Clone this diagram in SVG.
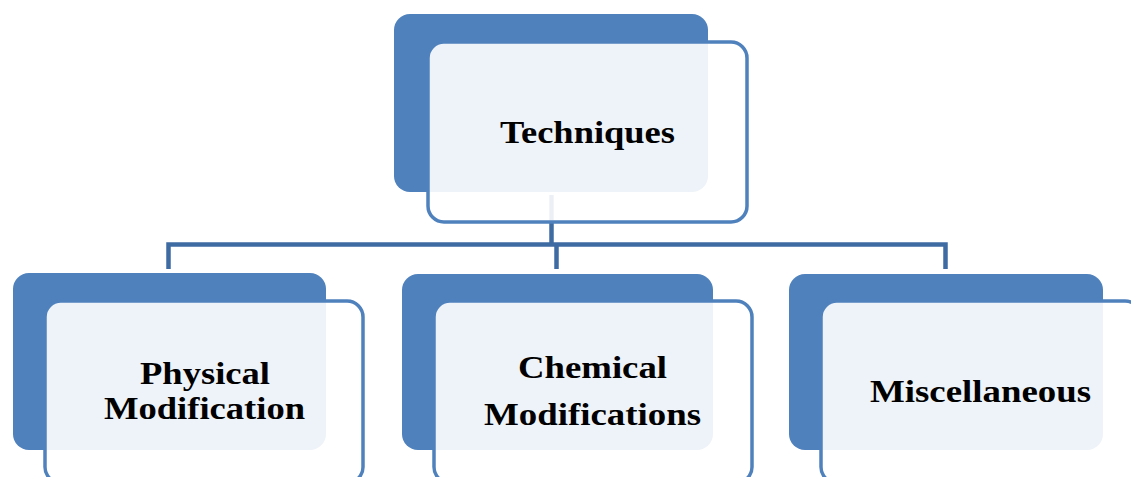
<svg xmlns="http://www.w3.org/2000/svg" width="1131" height="477" viewBox="0 0 1131 477">
  <style>
    .back { fill: #4f81bd; }
    .front { fill: #ffffff; fill-opacity: 0.9; stroke: #4f81bd; stroke-width: 3.5; }
    .link { fill: none; stroke: #3f6ba3; stroke-width: 4.5; stroke-linejoin: miter; }
    .label { font-family: "Liberation Serif", "Times New Roman", serif; font-weight: bold; font-size: 32px; fill: #000000; }
  </style>
  <rect width="1131" height="477" fill="#ffffff"/>

  <!-- tree connectors, drawn beneath the boxes -->
  <g id="connectors">
    <path class="link" d="M551.5 195 V244.5"/>
    <path class="link" d="M168.5 269 V244.5 H945.5 V269"/>
    <path class="link" d="M556.5 244.5 V269"/>
  </g>

  <g id="techniques">
    <rect class="back" x="394" y="14" width="314" height="178" rx="16"/>
    <rect class="front" x="428" y="42" width="319" height="180" rx="16"/>
    <text class="label" x="500" y="143" textLength="175" lengthAdjust="spacingAndGlyphs">Techniques</text>
  </g>

  <g id="physical">
    <rect class="back" x="13" y="273" width="313" height="177" rx="16"/>
    <rect class="front" x="45" y="301" width="318" height="182" rx="16"/>
    <text class="label" x="140" y="384" textLength="130" lengthAdjust="spacingAndGlyphs">Physical</text>
    <text class="label" x="104" y="419" textLength="201" lengthAdjust="spacingAndGlyphs">Modification</text>
  </g>

  <g id="chemical">
    <rect class="back" x="402" y="274" width="311" height="176" rx="16"/>
    <rect class="front" x="434" y="301" width="318" height="182" rx="16"/>
    <text class="label" x="518" y="378" textLength="149" lengthAdjust="spacingAndGlyphs">Chemical</text>
    <text class="label" x="484" y="425" textLength="217" lengthAdjust="spacingAndGlyphs">Modifications</text>
  </g>

  <g id="miscellaneous">
    <rect class="back" x="789" y="274" width="314" height="176" rx="16"/>
    <rect class="front" x="821" y="301" width="320" height="182" rx="16"/>
    <text class="label" x="870" y="402" textLength="221" lengthAdjust="spacingAndGlyphs">Miscellaneous</text>
  </g>
</svg>
